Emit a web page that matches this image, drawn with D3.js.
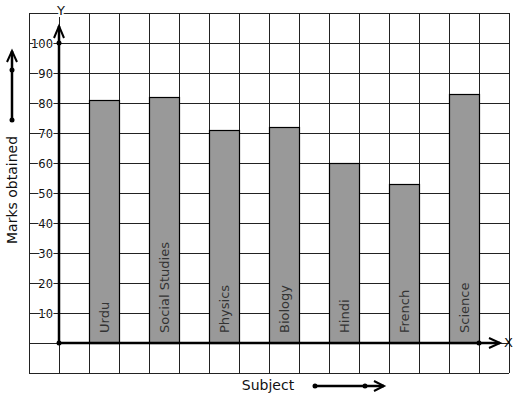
<!DOCTYPE html>
<html>
<head>
<meta charset="utf-8">
<script src="https://cdn.jsdelivr.net/npm/d3@7"></script>
<style>
body { margin: 0; background: #fff; }
text { font-family: "DejaVu Sans", sans-serif; }
</style>
</head>
<body>
<div class="chart"></div>
<script>
const width = 517;
const height = 399;

const subjects = ["Urdu", "Social Studies", "Physics", "Biology", "Hindi", "French", "Science"];
const marks = [81, 82, 71, 72, 60, 53, 83];
const yTicks = [10, 20, 30, 40, 50, 60, 70, 80, 90, 100];

// grid units: one column per cell, y in marks
const x = d3.scaleLinear().domain([-1, 15]).range([29, 509]);
const y = d3.scaleLinear().domain([-10, 110]).range([373, 13]);

const svg = d3.select(".chart").append("svg")
  .attr("width", width)
  .attr("height", height);

// grid
const grid = svg.append("g").attr("stroke", "#222").attr("stroke-width", 1);
grid.selectAll("line.v")
  .data(d3.range(-1, 16))
  .enter().append("line")
  .attr("x1", d => Math.round(x(d)) + 0.5).attr("x2", d => Math.round(x(d)) + 0.5)
  .attr("y1", y(110)).attr("y2", y(-10));
grid.selectAll("line.h")
  .data(d3.range(-10, 111, 10))
  .enter().append("line")
  .attr("y1", d => Math.round(y(d)) + 0.5).attr("y2", d => Math.round(y(d)) + 0.5)
  .attr("x1", x(-1)).attr("x2", x(15));

// bars
svg.append("g").selectAll("rect")
  .data(subjects)
  .enter().append("rect")
  .attr("x", (d, i) => x(2 * i + 1) + 0.5)
  .attr("y", (d, i) => y(marks[i]) + 0.5)
  .attr("width", x(2) - x(1))
  .attr("height", (d, i) => y(0) - y(marks[i]))
  .attr("fill", "#999")
  .attr("stroke", "#000")
  .attr("stroke-width", 1.2);

// bar labels
svg.append("g").selectAll("text")
  .data(subjects)
  .enter().append("text")
  .attr("transform", (d, i) => `translate(${x(2 * i + 1.5) + 4.5},${y(0) - 10}) rotate(-90)`)
  .attr("font-size", 13)
  .attr("fill", "#333")
  .text(d => d);

// y tick labels
svg.append("g").selectAll("text")
  .data(yTicks)
  .enter().append("text")
  .attr("x", x(0) - 6)
  .attr("y", d => y(d) + 4.5)
  .attr("text-anchor", "end")
  .attr("font-size", 11.5)
  .attr("fill", "#111")
  .attr("stroke", "#fff")
  .attr("stroke-width", 2)
  .attr("paint-order", "stroke")
  .text(d => d);

// axes
const axes = svg.append("g").attr("stroke", "#000").attr("fill", "none").attr("stroke-width", 2.5);
axes.append("line").attr("x1", x(0)).attr("x2", x(0)).attr("y1", y(0)).attr("y2", 26);
axes.append("polyline").attr("points", `${x(0) - 5},38 ${x(0)},26 ${x(0) + 5},38`).attr("stroke-width", 2);
axes.append("line").attr("x1", x(0)).attr("x2", 500).attr("y1", y(0)).attr("y2", y(0));
axes.append("polyline").attr("points", `489,${y(0) - 5} 500,${y(0)} 489,${y(0) + 5}`).attr("stroke-width", 2);

svg.append("g").selectAll("circle")
  .data([[x(0), y(0)], [x(0), y(100)], [x(14), y(0)]])
  .enter().append("circle")
  .attr("cx", d => d[0]).attr("cy", d => d[1]).attr("r", 2.5).attr("fill", "#000");

// axis letters
svg.append("text").attr("x", 61).attr("y", 15).attr("text-anchor", "middle")
  .attr("font-size", 13).attr("fill", "#111")
  .attr("stroke", "#fff").attr("stroke-width", 4).attr("paint-order", "stroke")
  .text("Y");
svg.append("text").attr("x", 504).attr("y", 347).attr("font-size", 13).attr("fill", "#111").text("X");

// left title and indicator arrow
svg.append("text")
  .attr("transform", "translate(17,190) rotate(-90)")
  .attr("text-anchor", "middle")
  .attr("font-size", 14)
  .attr("fill", "#111")
  .text("Marks obtained");
const ind = svg.append("g").attr("stroke", "#000").attr("fill", "none").attr("stroke-width", 2.5);
ind.append("line").attr("x1", 12).attr("x2", 12).attr("y1", 120).attr("y2", 51);
ind.append("polyline").attr("points", "7,62 12,51 17,62").attr("stroke-width", 2);
svg.append("g").selectAll("circle")
  .data([[12, 120], [12, 70]])
  .enter().append("circle")
  .attr("cx", d => d[0]).attr("cy", d => d[1]).attr("r", 2.5).attr("fill", "#000");

// bottom title and indicator arrow
svg.append("text")
  .attr("x", 268).attr("y", 390)
  .attr("text-anchor", "middle")
  .attr("font-size", 14)
  .attr("fill", "#111")
  .text("Subject");
const ind2 = svg.append("g").attr("stroke", "#000").attr("fill", "none").attr("stroke-width", 2.5);
ind2.append("line").attr("x1", 315).attr("x2", 384).attr("y1", 386).attr("y2", 386);
ind2.append("polyline").attr("points", "374,381 384,386 374,391").attr("stroke-width", 2);
svg.append("g").selectAll("circle")
  .data([[315, 386], [365, 386]])
  .enter().append("circle")
  .attr("cx", d => d[0]).attr("cy", d => d[1]).attr("r", 2.5).attr("fill", "#000");
</script>
</body>
</html>
